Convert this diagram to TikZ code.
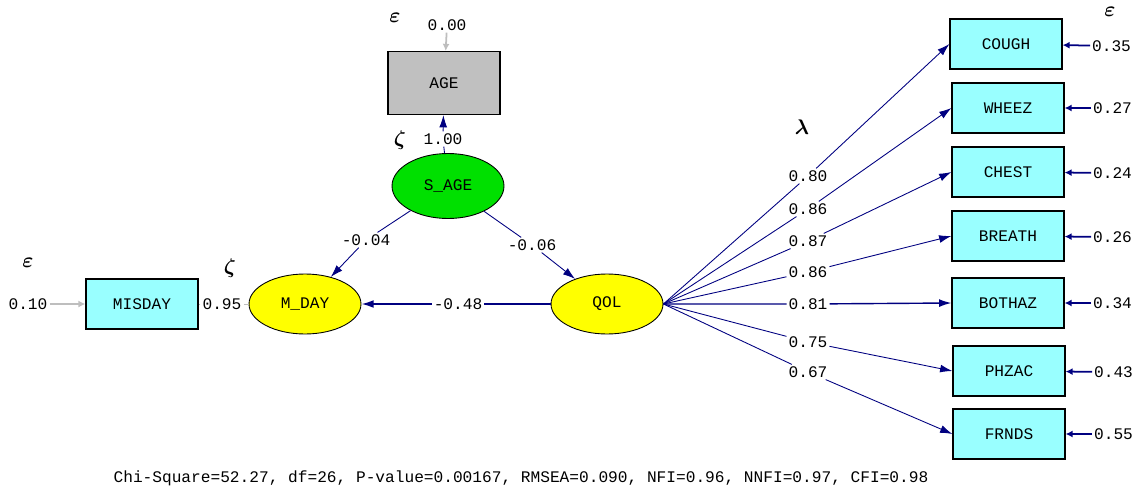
\documentclass[tikz,border=0pt]{standalone}
\usepackage{fontspec}
\setmonofont{Liberation Mono}
\usepackage{xcolor}
\usepackage{tikz}
\usetikzlibrary{
  arrows.meta,
  positioning,
  shapes.geometric
}
\definecolor{navy}{RGB}{0,0,128}
\definecolor{obsfill}{RGB}{153,255,255}
\definecolor{agefill}{RGB}{192,192,192}
\definecolor{latgreen}{RGB}{0,224,0}
\definecolor{latyellow}{RGB}{255,255,0}
\definecolor{fixgray}{RGB}{190,190,190}

\begin{document}
\begin{tikzpicture}[
  x=0.02cm, y=-0.02cm,
  every node/.style={font=\ttfamily\fontsize{9.2}{10}\selectfont},
  observed/.style={
    rectangle, draw, line width=0.7pt, fill=obsfill,
    minimum width=2.24cm, minimum height=1cm
  },
  latent/.style={
    ellipse, draw, line width=0.5pt,
    minimum width=2.24cm, minimum height=1.2cm
  },
  coef/.style={fill=white, inner sep=1pt},
  greek/.style={font=\boldmath\fontsize{12}{14}\selectfont},
  path-arrow/.style={draw=navy, line width=0.5pt, -{Latex[length=7pt,width=4.5pt]}},
  error-arrow/.style={draw=navy, line width=1pt, -{Latex[length=4pt,width=4pt]}},
  fixed-arrow/.style={draw=fixgray, line width=1pt, -{Latex[length=4pt,width=4pt]}}
]
\useasboundingbox (0,0) rectangle (1139,490);

\node [observed, fill=agefill, minimum height=1.26cm] (age) at (444,83) {AGE};
\node [latent, fill=latgreen, minimum height=1.3cm] (s-age) at (448,186) {S\_AGE};
\node [latent, fill=latyellow] (m-day) at (305,304) {M\_DAY};
\node [latent, fill=latyellow] (qol) at (607,304) {QOL};
\node [observed] (misday) at (142,304) {MISDAY};

\node [observed] (cough) at (1006,44) {COUGH};
\node [observed] (wheez) at (1008,108) {WHEEZ};
\node [observed] (chest) at (1008,172) {CHEST};
\node [observed] (breath) at (1008,236) {BREATH};
\node [observed] (bothaz) at (1008,303) {BOTHAZ};
\node [observed] (phzac) at (1009,371) {PHZAC};
\node [observed] (frnds) at (1009,434) {FRNDS};

\node [greek] (eps-age) at (395,18) {$\varepsilon$};
\node [greek] (zeta-s-age) at (400,140) {$\zeta$};
\node [greek] (zeta-m-day) at (230,268) {$\zeta$};
\node [greek] (eps-misday) at (28,263) {$\varepsilon$};
\node [greek] (lambda) at (802,127) {$\lambda$};
\node [greek] (eps-right) at (1110,12) {$\varepsilon$};

\node [coef] (var-age) at (447,25) {0.00};
\node [coef] (var-misday) at (28,304) {0.10};
\node [coef] (load-misday) at (222,304) {0.95};
\node [coef] (load-age) at (443,139) {1.00};
\node [coef] (g-m-day) at (366,240) {-0.04};
\node [coef] (g-qol) at (532,245) {-0.06};
\node [coef] (b-m-day) at (458,304) {-0.48};

\node [coef] (load-cough) at (808,176) {0.80};
\node [coef] (load-wheez) at (808,209) {0.86};
\node [coef] (load-chest) at (808,241) {0.87};
\node [coef] (load-breath) at (808,272) {0.86};
\node [coef] (load-bothaz) at (808,304) {0.81};
\node [coef] (load-phzac) at (808,342) {0.75};
\node [coef] (load-frnds) at (808,372) {0.67};

\node [coef, anchor=west] (err-cough) at (1090,46) {0.35};
\node [coef, anchor=west] (err-wheez) at (1091,108) {0.27};
\node [coef, anchor=west] (err-chest) at (1091,173) {0.24};
\node [coef, anchor=west] (err-breath) at (1091,237) {0.26};
\node [coef, anchor=west] (err-bothaz) at (1091,303) {0.34};
\node [coef, anchor=west] (err-phzac) at (1092,372) {0.43};
\node [coef, anchor=west] (err-frnds) at (1092,434) {0.55};

\draw [fixed-arrow] (var-age) -- (age);
\draw [fixed-arrow] (var-misday) -- (misday);
\draw [draw=fixgray, line width=0.5pt] (m-day) -- (load-misday) -- (misday);
\draw [path-arrow] (s-age) -- (load-age) -- (age);
\draw [path-arrow] (s-age) -- (g-m-day) -- (m-day);
\draw [path-arrow] (s-age) -- (g-qol) -- (qol);
\draw [path-arrow, line width=1pt] (qol) -- (b-m-day) -- (m-day);

\draw [path-arrow] (qol.east) -- (load-cough) -- (cough.west);
\draw [path-arrow] (qol.east) -- (load-wheez) -- (wheez.west);
\draw [path-arrow] (qol.east) -- (load-chest) -- (chest.west);
\draw [path-arrow] (qol.east) -- (load-breath) -- (breath.west);
\draw [path-arrow, line width=0.8pt] (qol.east) -- (load-bothaz) -- (bothaz.west);
\draw [path-arrow] (qol.east) -- (load-phzac) -- (phzac.west);
\draw [path-arrow] (qol.east) -- (load-frnds) -- (frnds.west);

\draw [error-arrow] (err-cough) -- (cough);
\draw [error-arrow] (err-wheez) -- (wheez);
\draw [error-arrow] (err-chest) -- (chest);
\draw [error-arrow] (err-breath) -- (breath);
\draw [error-arrow] (err-bothaz) -- (bothaz);
\draw [error-arrow] (err-phzac) -- (phzac);
\draw [error-arrow] (err-frnds) -- (frnds);

\node (fit-stats) at (521,478) {Chi-Square=52.27, df=26, P-value=0.00167, RMSEA=0.090, NFI=0.96, NNFI=0.97, CFI=0.98};
\end{tikzpicture}
\end{document}
